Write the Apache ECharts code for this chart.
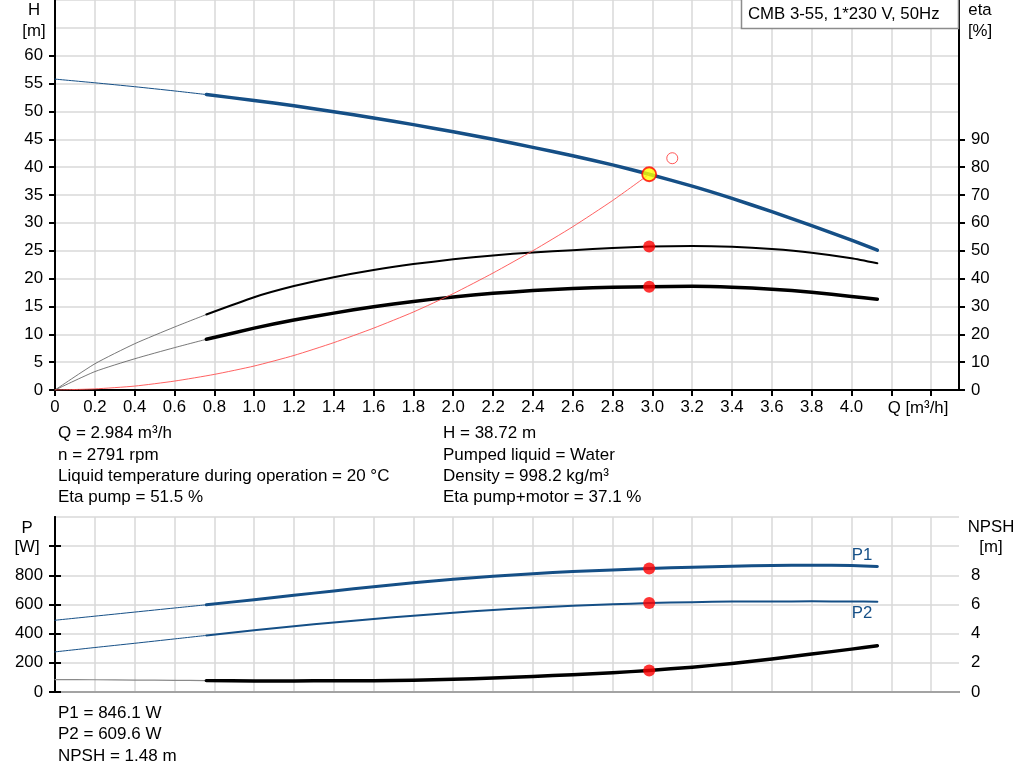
<!DOCTYPE html>
<html><head><meta charset="utf-8">
<script src="https://cdn.jsdelivr.net/npm/echarts@6/dist/echarts.min.js"></script>
<style>html,body{margin:0;padding:0;background:#fff}#c{width:1024px;height:781px}</style>
</head><body><div id="c"></div>
<script>
// ---- data ----
const qCurve   = [0,0.2,0.4,0.6,0.76,1.0,1.2,1.4,1.6,1.8,2.0,2.2,2.4,2.6,2.8,2.984,3.2,3.4,3.6,3.8,4.0,4.13];
const headM    = [55.8,55.14,54.44,53.68,53.03,51.97,51.01,49.95,48.83,47.63,46.35,44.99,43.55,42.03,40.41,38.72,36.6,34.4,32.0,29.5,26.9,25.1];
const etaPump  = [0,9.4,16.6,22.6,27.1,33.3,37.3,40.5,43.1,45.2,46.9,48.3,49.4,50.2,51.0,51.5,51.7,51.4,50.6,49.3,47.3,45.5];
const etaTotal = [0,6.6,11.2,15.2,18.2,22.2,25.1,27.6,29.9,31.8,33.4,34.7,35.7,36.4,36.9,37.1,37.2,36.9,36.2,35.1,33.6,32.6];
const powerP1  = [492,520,548,576,598,633,663,693,722,749,773,794,811,826,837,846.1,856,863,868,870,867,861];
const powerP2  = [275,305,334,364,388,423,451,477,501,523,544,562,578,591,601,609.6,616,620,621,621.5,620.5,619];
const npshM    = [0.85,0.84,0.82,0.80,0.78,0.76,0.76,0.77,0.78,0.81,0.87,0.96,1.07,1.19,1.32,1.48,1.70,1.96,2.27,2.60,2.94,3.17];
const thinEndQ = 0.76;   // curves are drawn thin below this flow

const qSystem  = [0,0.2,0.4,0.6,0.8,1.0,1.2,1.4,1.6,1.8,2.0,2.2,2.4,2.6,2.8,2.984];
const hSystem  = [0,0.2,0.7,1.6,2.8,4.3,6.2,8.5,11.1,14.0,17.3,21.0,25.0,29.3,34.0,38.72];

const duty = {q:2.984, h:38.72, etaPump:51.5, etaTotal:37.1, p1:846.1, p2:609.6, npsh:1.48};
const requestedPoint = [3.1, 41.6];

const qTicks    = [0,0.2,0.4,0.6,0.8,1.0,1.2,1.4,1.6,1.8,2.0,2.2,2.4,2.6,2.8,3.0,3.2,3.4,3.6,3.8,4.0,4.2,4.4];
const qLabels   = [0,0.2,0.4,0.6,0.8,1.0,1.2,1.4,1.6,1.8,2.0,2.2,2.4,2.6,2.8,3.0,3.2,3.4,3.6,3.8,4.0];
const hTicks    = [0,5,10,15,20,25,30,35,40,45,50,55,60];
const etaTicks  = [0,10,20,30,40,50,60,70,80,90];
const pTicks    = [0,200,400,600,800,1000];
const pLabels   = [0,200,400,600,800];
const npshTicks = [0,2,4,6,8,10];
const npshLabels= [0,2,4,6,8];

const title = 'CMB 3-55, 1*230 V, 50Hz';
const infoLeft  = ['Q = 2.984 m³/h','n = 2791 rpm','Liquid temperature during operation = 20 °C','Eta pump = 51.5 %'];
const infoRight = ['H = 38.72 m','Pumped liquid = Water','Density = 998.2 kg/m³','Eta pump+motor = 37.1 %'];
const infoBottom= ['P1 = 846.1 W','P2 = 609.6 W','NPSH = 1.48 m'];

// ---- styling ----
const FONT = 'Arial, "Liberation Sans", sans-serif';
const FS = 16.8;
const FS_INFO = 17;
const BLUE = '#154f86';
const GRID = '#d8d8d8';
const XMAX = 4.54;

const splitIdx = qCurve.indexOf(thinEndQ);
const pts = (ys, a, b) => qCurve.slice(a, b).map((q, i) => [q, ys[a + i]]);
const thin = ys => pts(ys, 0, splitIdx + 1);
const thick = ys => pts(ys, splitIdx, qCurve.length);

function line(data, color, width, xi, yi, z) {
  return {type:'line', data, xAxisIndex:xi, yAxisIndex:yi, showSymbol:false, silent:true,
    smooth:0.2, z:z||2,
    lineStyle:{color, width, cap:'round', join:'round'}};
}
function dot(pt, xi, yi, size, style, z) {
  return {type:'scatter', data:[pt], xAxisIndex:xi, yAxisIndex:yi, symbol:'circle',
    symbolSize:size, itemStyle:style, silent:true, z:z||5};
}

const tickStyle = {length:6, lineStyle:{color:'#000', width:2}};
const labelBase = {color:'#000', fontSize:FS, fontFamily:FONT};
const axisLineBlack = {show:true, lineStyle:{color:'#000', width:2}};

function txt(text, x, y, opts) {
  return {type:'text', z:100, silent:true, style:Object.assign({text, x, y, fill:'#000', fontSize:FS,
    fontFamily:FONT, align:'left', verticalAlign:'middle'}, opts||{})};
}

const graphics = [
  {type:'rect', z:90, silent:true, shape:{x:741.5, y:-3, width:217, height:31.5},
   style:{fill:'#fff', stroke:'#8c8c8c', lineWidth:1.5}},
  txt(title, 748, 14),
  txt('H', 34, 10, {align:'center'}), txt('[m]', 34, 31, {align:'center'}),
  txt('eta', 980, 10, {align:'center'}), txt('[%]', 980, 31, {align:'center'}),
  txt('P', 27, 528, {align:'center'}), txt('[W]', 27, 547, {align:'center'}),
  txt('NPSH', 991, 527, {align:'center'}), txt('[m]', 991, 547, {align:'center'}),
  txt('Q [m³/h]', 918, 408, {align:'center'}),
  txt('P1', 862, 555, {align:'center', fill:BLUE}),
  txt('P2', 862, 613, {align:'center', fill:BLUE})
];
const rowsTop = [433, 455, 476, 497];
infoLeft.forEach((s, i) => graphics.push(txt(s, 58, rowsTop[i], {fontSize:FS_INFO})));
infoRight.forEach((s, i) => graphics.push(txt(s, 443, rowsTop[i], {fontSize:FS_INFO})));
const rowsBottom = [713, 734.5, 756];
infoBottom.forEach((s, i) => graphics.push(txt(s, 58, rowsBottom[i], {fontSize:FS_INFO})));

const option = {
  animation:false,
  backgroundColor:'#fff',
  grid:[
    {left:55, top:0, width:904, height:390},
    {left:55, top:517, width:904, height:175}
  ],
  xAxis:[
    {gridIndex:0, type:'value', min:0, max:XMAX,
     axisLine:axisLineBlack,
     axisTick:Object.assign({customValues:qTicks}, tickStyle),
     axisLabel:Object.assign({customValues:qLabels, margin:9,
       formatter:v => v === 0 ? '0' : v.toFixed(1)}, labelBase),
     splitLine:{show:true, lineStyle:{color:GRID, width:1.5}}},
    {gridIndex:1, type:'value', min:0, max:XMAX,
     axisLine:{show:true, lineStyle:{color:'#000', width:1.5}},
     axisTick:{show:false, customValues:qTicks}, axisLabel:{show:false},
     splitLine:{show:true, lineStyle:{color:GRID, width:1.5}}},
    {gridIndex:1, type:'value', position:'top', min:0, max:XMAX,
     axisLine:{show:true, lineStyle:{color:'#a3a3a3', width:2}},
     axisTick:{show:false}, axisLabel:{show:false}, splitLine:{show:false}}
  ],
  yAxis:[
    {gridIndex:0, type:'value', position:'left', min:0, max:70,
     axisLine:axisLineBlack,
     axisTick:Object.assign({customValues:hTicks}, tickStyle),
     axisLabel:Object.assign({customValues:hTicks, margin:12}, labelBase),
     splitLine:{show:false}},
    {gridIndex:0, type:'value', position:'right', min:0, max:140,
     axisLine:axisLineBlack,
     axisTick:Object.assign({customValues:etaTicks}, tickStyle),
     axisLabel:Object.assign({customValues:etaTicks, margin:12}, labelBase),
     splitLine:{show:false}},
    {gridIndex:0, type:'value', position:'left', min:0, max:70, interval:5,
     axisLine:{show:false}, axisTick:{show:false}, axisLabel:{show:false},
     splitLine:{show:true, lineStyle:{color:GRID, width:1.5}}, z:0},
    {gridIndex:1, type:'value', position:'left', min:0, max:1200,
     axisLine:axisLineBlack,
     axisTick:Object.assign({customValues:pTicks}, tickStyle),
     axisLabel:Object.assign({customValues:pLabels, margin:12}, labelBase),
     splitLine:{show:false}},
    {gridIndex:1, type:'value', position:'right', min:0, max:12,
     axisLine:axisLineBlack,
     axisTick:Object.assign({customValues:npshTicks}, tickStyle),
     axisLabel:Object.assign({customValues:npshLabels, margin:12}, labelBase),
     splitLine:{show:false}},
    {gridIndex:1, type:'value', position:'left', min:0, max:1200, interval:200,
     axisLine:{show:false}, axisTick:{show:false}, axisLabel:{show:false},
     splitLine:{show:true, lineStyle:{color:GRID, width:1.5}}, z:0}
  ],
  series:[
    line(thin(headM), BLUE, 1, 0, 0),
    line(thick(headM), BLUE, 3.5, 0, 0),
    line(thin(etaPump), '#555', 0.8, 0, 1),
    line(thick(etaPump), '#000', 2, 0, 1),
    line(thin(etaTotal), '#555', 0.8, 0, 1),
    line(thick(etaTotal), '#000', 3.5, 0, 1),
    line(qSystem.map((q, i) => [q, hSystem[i]]), '#ff5050', 0.9, 0, 0, 3),
    dot([duty.q, duty.etaPump], 0, 1, 12, {color:'#ff0000'}),
    dot([duty.q, duty.etaTotal], 0, 1, 12, {color:'#ff0000'}),
    dot(requestedPoint, 0, 0, 11, {color:'rgba(255,255,255,0)', borderColor:'#ff3030', borderWidth:1}),
    dot([duty.q, duty.h], 0, 0, 14, {color:'#ffff00', borderColor:'#ff0000', borderWidth:1.8}, 6),

    line(thin(powerP1), BLUE, 1, 1, 3),
    line(thick(powerP1), BLUE, 3, 1, 3),
    line(thin(powerP2), BLUE, 1, 1, 3),
    line(thick(powerP2), BLUE, 2, 1, 3),
    line(thin(npshM), '#8a8a8a', 1.2, 1, 4),
    line(thick(npshM), '#000', 3.5, 1, 4),
    dot([duty.q, duty.p1], 1, 3, 12, {color:'#ff0000'}),
    dot([duty.q, duty.p2], 1, 3, 12, {color:'#ff0000'}),
    dot([duty.q, duty.npsh], 1, 4, 12, {color:'#ff0000'})
  ],
  graphic:graphics
};
const chart = echarts.init(document.getElementById('c'), null, {renderer:'canvas'});
chart.setOption(option);
</script>
</body></html>
